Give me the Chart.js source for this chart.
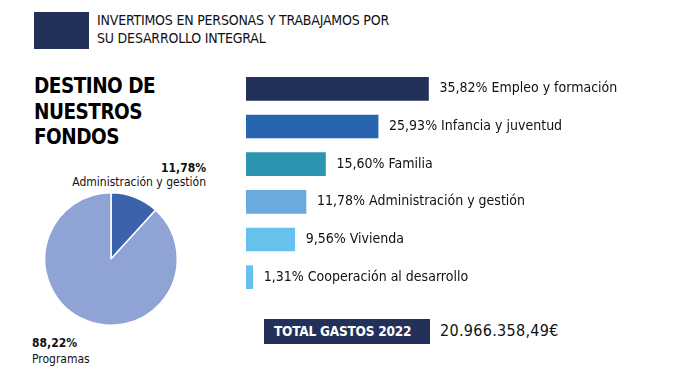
<!DOCTYPE html>
<html><head><meta charset="utf-8">
<script src="https://cdn.jsdelivr.net/npm/chart.js@4"></script>
<style>
html,body{margin:0;padding:0;background:#fff;width:679px;height:383px;overflow:hidden;position:relative;font-family:"DejaVu Sans Condensed","DejaVu Sans",sans-serif;color:#111;}
.abs{position:absolute;white-space:nowrap;}
#hdrbox{left:34px;top:12px;width:55px;height:37px;background:#22305a;}
#hdr{left:97px;top:12px;font-size:14px;line-height:17.5px;color:#111;letter-spacing:-0.2px;}
#title{left:34px;top:74px;font-size:20.5px;line-height:25.5px;font-weight:bold;color:#000;letter-spacing:-0.5px;}
#pl1{right:473px;top:161px;font-size:12px;line-height:14px;text-align:right;}
#pl2{left:32px;top:335px;font-size:12px;line-height:16px;}
#totbox{left:264px;top:319px;width:166px;height:25px;background:#22305a;color:#fff;font-weight:bold;font-size:13.5px;line-height:25px;text-indent:10px;letter-spacing:-0.2px;}
#totval{left:440px;top:318px;font-size:16px;line-height:25px;color:#111;letter-spacing:0.3px;}
</style></head>
<body>
<div class="abs" id="hdrbox"></div>
<div class="abs" id="hdr"></div>
<div class="abs" id="title"></div>
<div class="abs" id="pl1"></div>
<div class="abs" id="pl2"></div>
<div class="abs" id="totbox"></div>
<div class="abs" id="totval"></div>
<canvas id="bars" width="433" height="226" style="position:absolute;left:246px;top:70px;"></canvas>
<canvas id="pie" width="136" height="136" style="position:absolute;left:43px;top:190.5px;"></canvas>
<script>
// ---- data ----
const headerLines = ["INVERTIMOS EN PERSONAS Y TRABAJAMOS POR", "SU DESARROLLO INTEGRAL"];
const titleLines = ["DESTINO DE", "NUESTROS", "FONDOS"];
const categories = ["Empleo y formación", "Infancia y juventud", "Familia", "Administración y gestión", "Vivienda", "Cooperación al desarrollo"];
const values = [35.82, 25.93, 15.60, 11.78, 9.56, 1.31];
const pieLabels = ["Administración y gestión", "Programas"];
const pieValues = [11.78, 88.22];
const totalLabel = "TOTAL GASTOS 2022";
const totalValue = "20.966.358,49€";

// ---- styles ----
const barColors = ["#22305a", "#2766ae", "#2995ae", "#6aaadf", "#66c1ee", "#66c1ee"];
const pieColors = ["#3b62aa", "#8fa3d5"];
const fmt = v => v.toFixed(2).replace('.', ',') + '%';

document.getElementById('hdr').innerHTML = headerLines.join('<br>');
document.getElementById('title').innerHTML = titleLines.join('<br>');
document.getElementById('pl1').innerHTML = '<b>' + fmt(pieValues[0]) + '</b><br>' + pieLabels[0];
document.getElementById('pl2').innerHTML = '<b>' + fmt(pieValues[1]) + '</b><br>' + pieLabels[1];
document.getElementById('totbox').textContent = totalLabel;
document.getElementById('totval').textContent = totalValue;

const labelPlugin = {
  id: 'barLabels',
  afterDatasetsDraw(chart) {
    const ctx = chart.ctx;
    const meta = chart.getDatasetMeta(0);
    ctx.save();
    ctx.font = '14px "DejaVu Sans Condensed", "DejaVu Sans", sans-serif';
    ctx.fillStyle = '#111';
    ctx.textBaseline = 'middle';
    meta.data.forEach((bar, i) => {
      ctx.fillText(fmt(values[i]) + ' ' + categories[i], bar.x + 11, bar.y);
    });
    ctx.restore();
  }
};

new Chart(document.getElementById('bars'), {
  type: 'bar',
  data: { labels: categories, datasets: [{ data: values, backgroundColor: barColors, barThickness: 23, borderWidth: 0 }] },
  options: {
    indexAxis: 'y', responsive: false, animation: false,
    layout: { padding: 0 },
    plugins: { legend: { display: false }, tooltip: { enabled: false } },
    scales: {
      x: { display: false, min: 0, max: 85 },
      y: { display: false, offset: true }
    }
  },
  plugins: [labelPlugin]
});

new Chart(document.getElementById('pie'), {
  type: 'pie',
  data: { labels: pieLabels, datasets: [{ data: pieValues, backgroundColor: pieColors, borderColor: '#ffffff', borderWidth: 1.5 }] },
  options: {
    responsive: false, animation: false,
    layout: { padding: 1 },
    plugins: { legend: { display: false }, tooltip: { enabled: false } }
  }
});
</script>
</body></html>
